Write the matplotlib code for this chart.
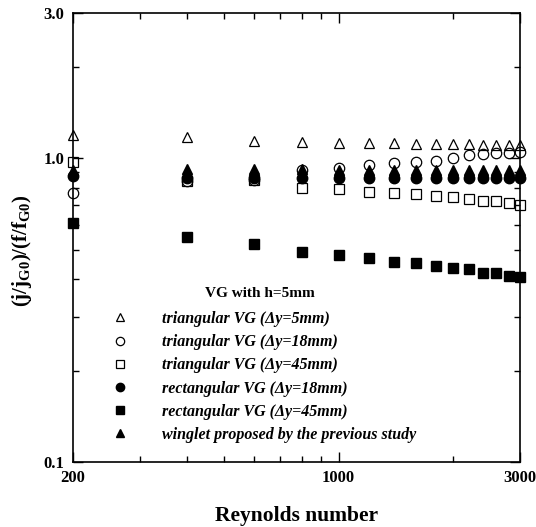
import matplotlib
matplotlib.use('Agg')
from matplotlib import pyplot as plt
from matplotlib.ticker import NullFormatter, FixedLocator, LogLocator

# Data
re_nums = [200, 400, 600, 800, 1000, 1200, 1400, 1600, 1800, 2000, 2200, 2400, 2600, 2800, 3000]
tri_5 = [1.19, 1.17, 1.14, 1.13, 1.12, 1.12, 1.12, 1.11, 1.11, 1.11, 1.11, 1.10, 1.10, 1.10, 1.10]
tri_18 = [0.77, 0.84, 0.85, 0.91, 0.93, 0.95, 0.96, 0.97, 0.98, 1.00, 1.02, 1.03, 1.04, 1.04, 1.05]
tri_45 = [0.97, 0.84, 0.85, 0.80, 0.79, 0.775, 0.77, 0.76, 0.75, 0.745, 0.735, 0.725, 0.72, 0.71, 0.70]
rect_18 = [0.87, 0.86, 0.86, 0.86, 0.86, 0.86, 0.86, 0.86, 0.86, 0.86, 0.86, 0.86, 0.86, 0.86, 0.86]
rect_45 = [0.61, 0.55, 0.52, 0.49, 0.48, 0.47, 0.455, 0.45, 0.44, 0.435, 0.43, 0.42, 0.42, 0.41, 0.405]
winglet = [0.91, 0.92, 0.92, 0.92, 0.91, 0.91, 0.91, 0.91, 0.91, 0.91, 0.91, 0.91, 0.91, 0.91, 0.91]

labels = ['triangular VG (\u0394y=5mm)', 'triangular VG (\u0394y=18mm)', 'triangular VG (\u0394y=45mm)',
          'rectangular VG (\u0394y=18mm)', 'rectangular VG (\u0394y=45mm)',
          'winglet proposed by the previous study']

plt.rcParams['font.family'] = ['Liberation Serif', 'DejaVu Serif']
plt.rcParams['font.weight'] = 'bold'
plt.rcParams['mathtext.fontset'] = 'custom'
plt.rcParams['mathtext.rm'] = 'Liberation Serif:bold'
plt.rcParams['mathtext.bf'] = 'Liberation Serif:bold'
plt.rcParams['mathtext.it'] = 'Liberation Serif:bold:italic'

fig = plt.figure(figsize=(5.36, 5.27), dpi=100)
ax = fig.add_axes([0.136, 0.1233, 0.834, 0.852])

ms = 7.5
ax.plot(re_nums, tri_5, '^', ms=ms, mfc='none', mec='black', mew=0.9, ls='none', clip_on=False, zorder=3, label=labels[0])
ax.plot(re_nums, tri_18, 'o', ms=ms, mfc='none', mec='black', mew=0.9, ls='none', clip_on=False, zorder=3, label=labels[1])
ax.plot(re_nums, tri_45, 's', ms=ms, mfc='none', mec='black', mew=0.9, ls='none', clip_on=False, zorder=3, label=labels[2])
ax.plot(re_nums, rect_18, 'o', ms=ms, color='black', ls='none', clip_on=False, zorder=4, label=labels[3])
ax.plot(re_nums, rect_45, 's', ms=ms, color='black', ls='none', clip_on=False, zorder=4, label=labels[4])
ax.plot(re_nums, winglet, '^', ms=ms, color='black', ls='none', clip_on=False, zorder=5, label=labels[5])

ax.set_xscale('log')
ax.set_yscale('log')
ax.set_xlim(200, 3000)
ax.set_ylim(0.1, 3.0)

ax.xaxis.set_major_locator(FixedLocator([200, 1000, 3000]))
ax.set_xticklabels(['200', '1000', '3000'])
ax.xaxis.set_minor_locator(LogLocator(base=10, subs=range(2, 10)))
ax.xaxis.set_minor_formatter(NullFormatter())
ax.yaxis.set_major_locator(FixedLocator([0.1, 1.0, 3.0]))
ax.set_yticklabels(['0.1', '1.0', '3.0'])
ax.yaxis.set_minor_locator(LogLocator(base=10, subs=range(2, 10)))
ax.yaxis.set_minor_formatter(NullFormatter())

ax.tick_params(which='both', direction='in', top=True, right=True, labelsize=12, width=1.0)
ax.tick_params(which='major', length=7, pad=6)
ax.tick_params(which='minor', length=4)
for s in ax.spines.values():
    s.set_linewidth(1.2)

ax.set_xlabel('Reynolds number', fontsize=15.5, fontweight='bold')
ax.xaxis.set_label_coords(0.5, -0.098)
ax.set_ylabel('(j/j$_{\\mathbf{G0}}$)/(f/f$_{\\mathbf{G0}}$)', fontsize=15, fontweight='bold')
ax.yaxis.set_label_coords(-0.088, 0.47)

leg = ax.legend(loc='upper left', bbox_to_anchor=(0.045, 0.415), frameon=False,
                prop={'size': 11.5, 'style': 'italic', 'weight': 'bold'},
                title='VG with h=5mm', title_fontproperties={'size': 11, 'weight': 'bold'},
                markerscale=0.8, handletextpad=1.6, labelspacing=0.45, borderpad=0.2)
leg._legend_box.sep = 8

fig.savefig('out.png', dpi=100)
